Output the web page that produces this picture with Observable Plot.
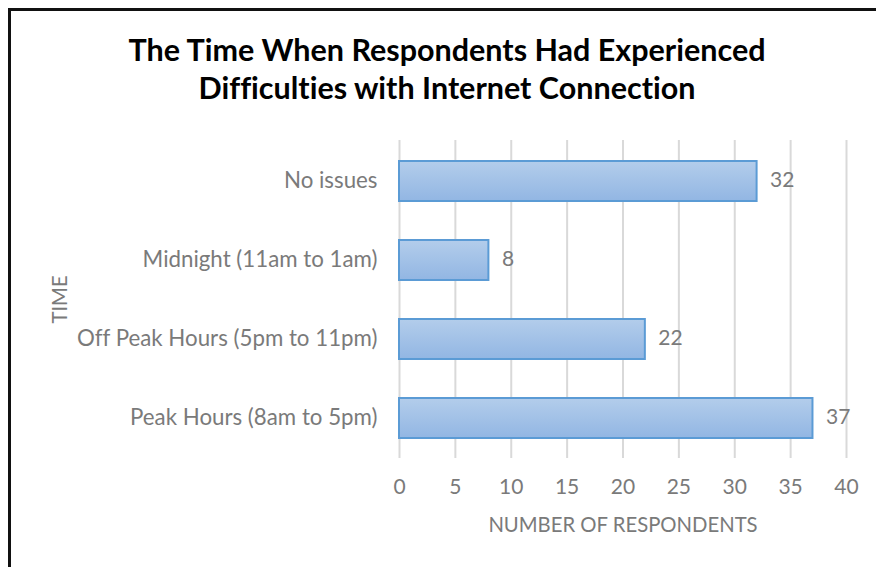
<!DOCTYPE html>
<html>
<head>
<meta charset="utf-8">
<script src="https://cdn.jsdelivr.net/npm/d3@7"></script>
<script src="https://cdn.jsdelivr.net/npm/@observablehq/plot@0.6"></script>
<style>
  html, body { margin: 0; padding: 0; background: #fff; }
  #wrap { position: relative; width: 876px; height: 567px; overflow: hidden; }
  #frame { position: absolute; left: 8px; top: 8px; width: 900px; height: 600px;
           border-top: 3px solid #111; border-left: 3px solid #111; box-sizing: border-box; }
  #title { position: absolute; left: 0; top: 30px; width: 894px; text-align: center;
           font-family: Lato, sans-serif; font-weight: 700; font-size: 30.5px; line-height: 38px; color: #000;
           font-variant-ligatures: none; }
  #chart { position: absolute; left: 0; top: 120px; }
  #chart svg text { font-variant-ligatures: none; }
</style>
</head>
<body>
<div id="wrap">
  <div id="frame"></div>
  <div id="title">The Time When Respondents Had Experienced<br>Difficulties with Internet Connection</div>
  <div id="chart"></div>
</div>
<script>
// Time slots, listed top to bottom
const categories = [
  "No issues",
  "Midnight (11am to 1am)",
  "Off Peak Hours (5pm to 11pm)",
  "Peak Hours (8am to 5pm)"
];
// Number of respondents per time slot
const values = [32, 8, 22, 37];
const xTicks = [0, 5, 10, 15, 20, 25, 30, 35, 40];

const rows = categories.map((c, i) => ({time: c, count: values[i]}));

const gray = "#7a7a7a";
const font = "Lato, sans-serif";

const svg = Plot.plot({
  width: 876,
  height: 447,
  marginLeft: 399,
  marginRight: 30,
  marginTop: 20,
  marginBottom: 109,
  style: {fontFamily: font, fontSize: "21px", color: gray, background: "transparent"},
  x: {domain: [0, 40], ticks: xTicks},
  y: {domain: categories, paddingInner: 0.5, paddingOuter: 0.25},
  marks: [
    Plot.gridX(xTicks, {stroke: "#d9d9d9", strokeWidth: 2, strokeOpacity: 1}),
    Plot.barX(rows, {
      x: "count", y: "time",
      fill: "url(#barGrad)", stroke: "#5b9bd5", strokeWidth: 2
    }),
    Plot.text(rows, {
      x: "count", y: "time", text: d => String(d.count),
      textAnchor: "start", dx: 13, dy: -1, fill: gray, fontSize: 21
    }),
    Plot.axisX(xTicks, {tickSize: 0, tickPadding: 21, fontSize: 21, label: null, fill: gray}),
    Plot.axisY({tickSize: 0, tickPadding: 22, dy: -1, fontSize: 22.3, label: null, fill: gray}),
    Plot.text(["NUMBER OF RESPONDENTS"], {
      frameAnchor: "bottom", textAnchor: "middle", lineAnchor: "middle",
      dy: 67, fill: gray, fontSize: 20.3
    }),
    Plot.text(["TIME"], {
      frameAnchor: "left", textAnchor: "middle", lineAnchor: "middle",
      dx: -339, rotate: -90, fill: gray, fontSize: 20.3
    })
  ]
});

// Vertical gradient used by the bars
const defs = d3.select(svg).insert("defs", ":first-child");
const grad = defs.append("linearGradient")
  .attr("id", "barGrad").attr("x1", 0).attr("y1", 0).attr("x2", 0).attr("y2", 1);
grad.append("stop").attr("offset", "0%").attr("stop-color", "#b3cdeb");
grad.append("stop").attr("offset", "100%").attr("stop-color", "#92b6e3");

document.getElementById("chart").appendChild(svg);
</script>
</body>
</html>
